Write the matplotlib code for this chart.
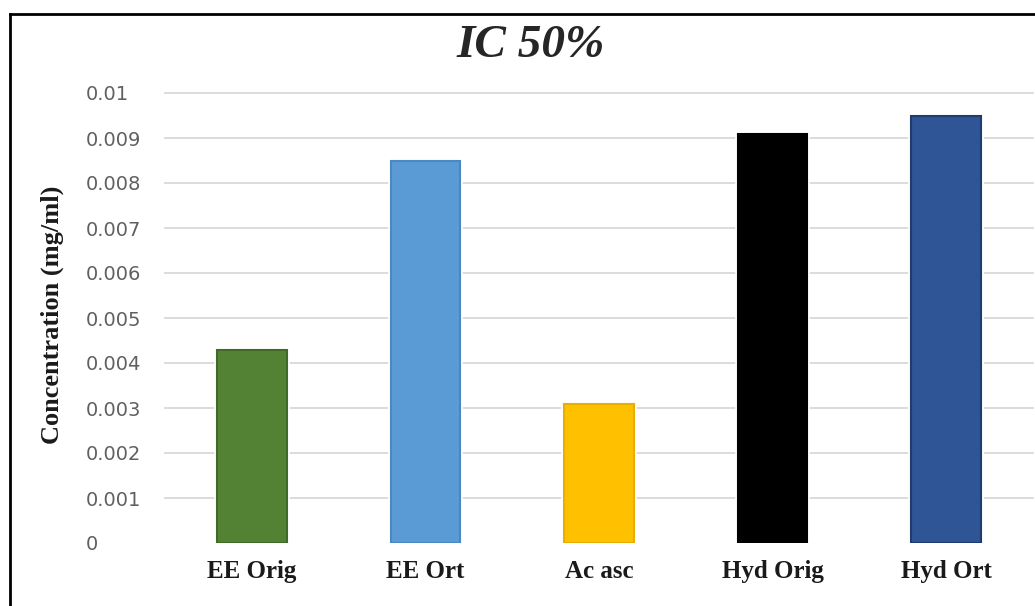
import matplotlib
matplotlib.use("Agg")
import matplotlib.pyplot as plt
from matplotlib.lines import Line2D

# IC50 values per extract (mg/ml)
samples = ["EE Orig", "EE Ort", "Ac asc", "Hyd Orig", "Hyd Ort"]
ic50 = [0.0043, 0.0085, 0.0031, 0.0091, 0.0095]
fill_colors = ["#548235", "#5B9BD5", "#FFC000", "#000000", "#2F5597"]
edge_colors = ["#3F6A27", "#4A88C2", "#E8AE00", "#000000", "#1F3C70"]
y_ticks = [0, 0.001, 0.002, 0.003, 0.004, 0.005, 0.006, 0.007, 0.008, 0.009, 0.01]
y_tick_labels = ["0", "0.001", "0.002", "0.003", "0.004", "0.005",
                 "0.006", "0.007", "0.008", "0.009", "0.01"]

W, H = 1035, 606
fig = plt.figure(figsize=(W / 100, H / 100), dpi=100)
fig.patch.set_facecolor("white")

# plot area in pixel terms: x 165..1033, y 93..543
ax = fig.add_axes([165 / W, (H - 543) / H, (1033 - 165) / W, 450 / H])
ax.set_facecolor("white")

x = list(range(len(samples)))
# white halo under each bar so the gridlines stop short of it
ax.bar(x, ic50, width=0.4, color=fill_colors, edgecolor="white",
       linewidth=4, zorder=2)
ax.bar(x, ic50, width=0.4, color=fill_colors, edgecolor=edge_colors,
       linewidth=1.5, zorder=3)

ax.set_xlim(-0.5, len(samples) - 0.5)
ax.set_ylim(0, 0.01)
ax.set_yticks(y_ticks)
ax.set_yticklabels(y_tick_labels, fontsize=14, color="#606060",
                   family="DejaVu Sans")
for lbl in ax.get_yticklabels():
    lbl.set_ha("left")
ax.tick_params(axis="y", length=0, pad=79 * 0.72)

ax.set_xticks(x)
ax.set_xticklabels(samples, fontsize=18, fontweight="bold",
                   family="Liberation Serif", color="#1a1a1a")
ax.tick_params(axis="x", length=0, pad=12)

ax.yaxis.grid(True, color="#D9D9D9", linewidth=1.3, zorder=0)
ax.set_axisbelow(True)
gridlines = ax.yaxis.get_gridlines()
for gl in gridlines:
    gl.set_clip_on(False)
gridlines[0].set_visible(False)  # no line drawn at zero
for side in ["top", "right", "left", "bottom"]:
    ax.spines[side].set_visible(False)

fig.text(52 / W, 1 - 315 / H, "Concentration (mg/ml)", rotation=90,
         ha="center", va="center", fontsize=19, fontweight="bold",
         family="Liberation Serif", color="#1a1a1a")

fig.text(531 / W, 1 - 46 / H, "IC 50%", ha="center", va="center",
         fontsize=34, fontweight="bold", fontstyle="italic",
         family="Liberation Serif", color="#262626")

# frame on top and left edges
fig.add_artist(Line2D([9.5 / W, 1.0], [1 - 13.5 / H, 1 - 13.5 / H],
                      transform=fig.transFigure, color="black", linewidth=2))
fig.add_artist(Line2D([9.5 / W, 9.5 / W], [0, 1 - 13.5 / H],
                      transform=fig.transFigure, color="black", linewidth=2))

fig.savefig("out.png", dpi=100, facecolor="white")
